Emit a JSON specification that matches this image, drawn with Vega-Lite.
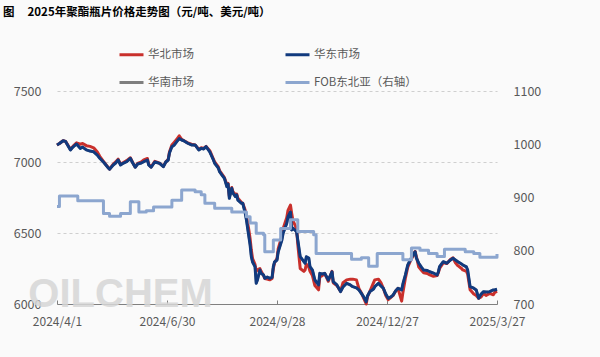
{
  "$schema": "https://vega.github.io/schema/vega-lite/v6.json",
  "width": 440,
  "height": 213,
  "autosize": {"type": "none"},
  "padding": {"left": 57, "top": 91, "right": 103, "bottom": 53},
  "background": "#fafafa",
  "config": {
    "font": "Noto Sans CJK SC",
    "view": {"stroke": null},
    "legend": {
      "orient": "none",
      "legendX": 61,
      "legendY": -50,
      "columns": 2,
      "padding": 0,
      "symbolType": "stroke",
      "symbolSize": 576,
      "symbolStrokeWidth": 3,
      "labelOffset": 3,
      "columnPadding": 85,
      "rowPadding": 8,
      "labelFontSize": 11.5,
      "labelColor": "#595959",
      "title": null
    }
  },
  "title": {
    "text": "图\u00a0\u00a0\u00a0\u00a0\u00a02025年聚酯瓶片价格走势图（元/吨、美元/吨）",
    "anchor": "start",
    "frame": "group",
    "fontSize": 11.5,
    "fontWeight": "bold",
    "color": "#000000",
    "dx": -54,
    "offset": 23
  },
  "datasets": {
    "dom": [
      {"date":"2024-04-01","华北市场":7120,"华东市场":7120,"华南市场":7120},
      {"date":"2024-04-03","华北市场":7130,"华东市场":7130,"华南市场":7130},
      {"date":"2024-04-06","华北市场":7150,"华东市场":7150,"华南市场":7150},
      {"date":"2024-04-08","华北市场":7145,"华东市场":7145,"华南市场":7145},
      {"date":"2024-04-12","华北市场":7090,"华东市场":7085,"华南市场":7085},
      {"date":"2024-04-14","华北市场":7110,"华东市场":7105,"华南市场":7105},
      {"date":"2024-04-17","华北市场":7135,"华东市场":7127,"华南市场":7127},
      {"date":"2024-04-20","华北市场":7125,"华东市场":7096,"华南市场":7096},
      {"date":"2024-04-22","华北市场":7130,"华东市场":7105,"华南市场":7105},
      {"date":"2024-04-25","华北市场":7115,"华东市场":7085,"华南市场":7085},
      {"date":"2024-04-28","华北市场":7110,"华东市场":7077,"华南市场":7077},
      {"date":"2024-05-01","华北市场":7100,"华东市场":7072,"华南市场":7072},
      {"date":"2024-05-04","华北市场":7070,"华东市场":7049,"华南市场":7049},
      {"date":"2024-05-06","华北市场":7040,"华东市场":7026,"华南市场":7026},
      {"date":"2024-05-09","华北市场":7005,"华东市场":7000,"华南市场":7000},
      {"date":"2024-05-13","华北市场":6960,"华东市场":6958,"华南市场":6958},
      {"date":"2024-05-14","华北市场":6950,"华东市场":6949,"华南市场":6949},
      {"date":"2024-05-17","华北市场":6985,"华东市场":6979,"华南市场":6979},
      {"date":"2024-05-19","华北市场":7000,"华东市场":6993,"华南市场":6993},
      {"date":"2024-05-21","华北市场":7020,"华东市场":7014,"华南市场":7014},
      {"date":"2024-05-23","华北市场":6985,"华东市场":6979,"华南市场":6979},
      {"date":"2024-05-25","华北市场":6995,"华东市场":6991,"华南市场":6991},
      {"date":"2024-05-28","华北市场":7010,"华东市场":7002,"华南市场":7002},
      {"date":"2024-05-31","华北市场":7030,"华东市场":7026,"华南市场":7026},
      {"date":"2024-06-02","华北市场":6995,"华东市场":6993,"华南市场":6993},
      {"date":"2024-06-04","华北市场":6965,"华东市场":6963,"华南市场":6963},
      {"date":"2024-06-06","华北市场":6990,"华东市场":6986,"华南市场":6986},
      {"date":"2024-06-09","华北市场":7000,"华东市场":6993,"华南市场":6993},
      {"date":"2024-06-11","华北市场":7015,"华东市场":7002,"华南市场":7002},
      {"date":"2024-06-14","华北市场":7025,"华东市场":7014,"华南市场":7014},
      {"date":"2024-06-15","华北市场":6985,"华东市场":6979,"华南市场":6979},
      {"date":"2024-06-17","华北市场":6965,"华东市场":6963,"华南市场":6963},
      {"date":"2024-06-20","华北市场":7005,"华东市场":7000,"华南市场":7000},
      {"date":"2024-06-23","华北市场":6995,"华东市场":6993,"华南市场":6993},
      {"date":"2024-06-24","华北市场":6990,"华东市场":6991,"华南市场":6991},
      {"date":"2024-06-27","华北市场":6970,"华东市场":6967,"华南市场":6967},
      {"date":"2024-06-29","华北市场":7000,"华东市场":7000,"华南市场":7000},
      {"date":"2024-07-01","华北市场":7020,"华东市场":7014,"华南市场":7014},
      {"date":"2024-07-02","华北市场":7070,"华东市场":7063,"华南市场":7063},
      {"date":"2024-07-04","华北市场":7120,"华东市场":7108,"华南市场":7108},
      {"date":"2024-07-06","华北市场":7140,"华东市场":7120,"华南市场":7120},
      {"date":"2024-07-08","华北市场":7160,"华东市场":7143,"华南市场":7143},
      {"date":"2024-07-10","华北市场":7185,"华东市场":7165,"华南市场":7165},
      {"date":"2024-07-12","华北市场":7160,"华东市场":7155,"华南市场":7155},
      {"date":"2024-07-14","华北市场":7150,"华东市场":7148,"华南市场":7148},
      {"date":"2024-07-17","华北市场":7135,"华东市场":7132,"华南市场":7132},
      {"date":"2024-07-20","华北市场":7125,"华东市场":7120,"华南市场":7120},
      {"date":"2024-07-23","华北市场":7120,"华东市场":7120,"华南市场":7120},
      {"date":"2024-07-26","华北市场":7090,"华东市场":7085,"华南市场":7085},
      {"date":"2024-07-28","华北市场":7100,"华东市场":7096,"华南市场":7096},
      {"date":"2024-07-30","华北市场":7095,"华东市场":7092,"华南市场":7092},
      {"date":"2024-08-01","华北市场":7110,"华东市场":7108,"华南市场":7108},
      {"date":"2024-08-04","华北市场":7080,"华东市场":7072,"华南市场":7072},
      {"date":"2024-08-07","华北市场":7020,"华东市场":7014,"华南市场":7014},
      {"date":"2024-08-08","华北市场":7000,"华东市场":6991,"华南市场":6991},
      {"date":"2024-08-11","华北市场":6965,"华东市场":6958,"华南市场":6958},
      {"date":"2024-08-12","华北市场":6940,"华东市场":6932,"华南市场":6932},
      {"date":"2024-08-14","华北市场":6915,"华东市场":6908,"华南市场":6908},
      {"date":"2024-08-16","华北市场":6890,"华东市场":6885,"华南市场":6885},
      {"date":"2024-08-18","华北市场":6840,"华东市场":6826,"华南市场":6826},
      {"date":"2024-08-19","华北市场":6850,"华东市场":6845,"华南市场":6845},
      {"date":"2024-08-20","华北市场":6760,"华东市场":6744,"华南市场":6744},
      {"date":"2024-08-22","华北市场":6820,"华东市场":6815,"华南市场":6815},
      {"date":"2024-08-23","华北市场":6790,"华东市场":6780,"华南市场":6780},
      {"date":"2024-08-25","华北市场":6770,"华东市场":6756,"华南市场":6756},
      {"date":"2024-08-26","华北市场":6775,"华东市场":6768,"华南市场":6768},
      {"date":"2024-08-27","华北市场":6745,"华东市场":6732,"华南市场":6732},
      {"date":"2024-08-30","华北市场":6715,"华东市场":6709,"华南市场":6709},
      {"date":"2024-08-31","华北市场":6710,"华东市场":6709,"华南市场":6709},
      {"date":"2024-09-02","华北市场":6660,"华东市场":6639,"华南市场":6639},
      {"date":"2024-09-03","华北市场":6620,"华东市场":6592,"华南市场":6592},
      {"date":"2024-09-05","华北市场":6520,"华东市场":6474,"华南市场":6474},
      {"date":"2024-09-06","华北市场":6460,"华东市场":6415,"华南市场":6415},
      {"date":"2024-09-07","华北市场":6380,"华东市场":6333,"华南市场":6333},
      {"date":"2024-09-08","华北市场":6320,"华东市场":6296,"华南市场":6296},
      {"date":"2024-09-10","华北市场":6280,"华东市场":6263,"华南市场":6263},
      {"date":"2024-09-11","华北市场":6230,"华东市场":6146,"华南市场":6146},
      {"date":"2024-09-12","华北市场":6240,"华东市场":6169,"华南市场":6169},
      {"date":"2024-09-14","华北市场":6250,"华东市场":6239,"华南市场":6239},
      {"date":"2024-09-15","华北市场":6230,"华东市场":6216,"华南市场":6216},
      {"date":"2024-09-17","华北市场":6200,"华东市场":6204,"华南市场":6204},
      {"date":"2024-09-18","华北市场":6180,"华东市场":6181,"华南市场":6181},
      {"date":"2024-09-20","华北市场":6175,"华东市场":6190,"华南市场":6190},
      {"date":"2024-09-22","华北市场":6170,"华东市场":6181,"华南市场":6181},
      {"date":"2024-09-24","华北市场":6180,"华东市场":6188,"华南市场":6188},
      {"date":"2024-09-25","华北市场":6250,"华东市场":6263,"华南市场":6263},
      {"date":"2024-09-26","华北市场":6290,"华东市场":6296,"华南市场":6296},
      {"date":"2024-09-28","华北市场":6320,"华东市场":6310,"华南市场":6310},
      {"date":"2024-09-29","华北市场":6390,"华东市场":6368,"华南市场":6368},
      {"date":"2024-10-02","华北市场":6480,"华东市场":6451,"华南市场":6451},
      {"date":"2024-10-03","华北市场":6530,"华东市场":6498,"华南市场":6498},
      {"date":"2024-10-06","华北市场":6610,"华东市场":6568,"华南市场":6568},
      {"date":"2024-10-07","华北市场":6660,"华东市场":6615,"华南市场":6615},
      {"date":"2024-10-09","华北市场":6697,"华东市场":6648,"华南市场":6648},
      {"date":"2024-10-10","华北市场":6640,"华东市场":6521,"华南市场":6521},
      {"date":"2024-10-11","华北市场":6590,"华东市场":6535,"华南市场":6535},
      {"date":"2024-10-14","华北市场":6530,"华东市场":6509,"华南市场":6509},
      {"date":"2024-10-15","华北市场":6420,"华东市场":6451,"华南市场":6451},
      {"date":"2024-10-17","华北市场":6250,"华东市场":6333,"华南市场":6333},
      {"date":"2024-10-20","华北市场":6230,"华东市场":6298,"华南市场":6298},
      {"date":"2024-10-21","华北市场":6240,"华东市场":6287,"华南市场":6287},
      {"date":"2024-10-22","华北市场":6280,"华东市场":6333,"华南市场":6333},
      {"date":"2024-10-24","华北市场":6260,"华东市场":6324,"华南市场":6324},
      {"date":"2024-10-25","华北市场":6230,"华东市场":6263,"华南市场":6263},
      {"date":"2024-10-27","华北市场":6200,"华东市场":6239,"华南市场":6239},
      {"date":"2024-10-29","华北市场":6130,"华东市场":6169,"华南市场":6169},
      {"date":"2024-11-01","华北市场":6100,"华东市场":6134,"华南市场":6134},
      {"date":"2024-11-02","华北市场":6190,"华东市场":6216,"华南市场":6216},
      {"date":"2024-11-04","华北市场":6200,"华东市场":6211,"华南市场":6211},
      {"date":"2024-11-06","华北市场":6215,"华东市场":6216,"华南市场":6216},
      {"date":"2024-11-09","华北市场":6160,"华东市场":6169,"华南市场":6169},
      {"date":"2024-11-12","华北市场":6230,"华东市场":6227,"华南市场":6227},
      {"date":"2024-11-13","华北市场":6150,"华东市场":6157,"华南市场":6157},
      {"date":"2024-11-16","华北市场":6130,"华东市场":6134,"华南市场":6134},
      {"date":"2024-11-19","华北市场":6090,"华东市场":6087,"华南市场":6087},
      {"date":"2024-11-21","华北市场":6150,"华东市场":6120,"华南市场":6120},
      {"date":"2024-11-24","华北市场":6170,"华东市场":6146,"华南市场":6146},
      {"date":"2024-11-27","华北市场":6175,"华东市场":6134,"华南市场":6134},
      {"date":"2024-11-29","华北市场":6175,"华东市场":6122,"华南市场":6122},
      {"date":"2024-12-02","华北市场":6170,"华东市场":6113,"华南市场":6113},
      {"date":"2024-12-04","华北市场":6110,"华东市场":6099,"华南市场":6099},
      {"date":"2024-12-06","华北市场":6080,"华东市场":6075,"华南市场":6075},
      {"date":"2024-12-08","华北市场":6040,"华东市场":6049,"华南市场":6049},
      {"date":"2024-12-10","华北市场":6000,"华东市场":6016,"华南市场":6016},
      {"date":"2024-12-11","华北市场":6050,"华东市场":6056,"华南市场":6056},
      {"date":"2024-12-13","华北市场":6090,"华东市场":6087,"华南市场":6087},
      {"date":"2024-12-16","华北市场":6150,"华东市场":6106,"华南市场":6106},
      {"date":"2024-12-17","华北市场":6170,"华东市场":6122,"华南市场":6122},
      {"date":"2024-12-20","华北市场":6175,"华东市场":6146,"华南市场":6146},
      {"date":"2024-12-22","华北市场":6150,"华东市场":6127,"华南市场":6127},
      {"date":"2024-12-24","华北市场":6110,"华东市场":6111,"华南市场":6111},
      {"date":"2024-12-26","华北市场":6060,"华东市场":6070,"华南市场":6070},
      {"date":"2024-12-28","华北市场":6030,"华东市场":6040,"华南市场":6040},
      {"date":"2024-12-30","华北市场":6045,"华东市场":6049,"华南市场":6049},
      {"date":"2025-01-01","华北市场":6060,"华东市场":6063,"华南市场":6063},
      {"date":"2025-01-03","华北市场":6090,"华东市场":6092,"华南市场":6092},
      {"date":"2025-01-05","华北市场":6110,"华东市场":6111,"华南市场":6111},
      {"date":"2025-01-08","华北市场":6020,"华东市场":6099,"华南市场":6099},
      {"date":"2025-01-09","华北市场":6080,"华东市场":6141,"华南市场":6141},
      {"date":"2025-01-11","华北市场":6180,"华东市场":6204,"华南市场":6204},
      {"date":"2025-01-13","华北市场":6260,"华东市场":6275,"华南市场":6275},
      {"date":"2025-01-15","华北市场":6300,"华东市场":6310,"华南市场":6310},
      {"date":"2025-01-18","华北市场":6350,"华东市场":6357,"华南市场":6357},
      {"date":"2025-01-19","华北市场":6370,"华东市场":6368,"华南市场":6368},
      {"date":"2025-01-20","华北市场":6335,"华东市场":6324,"华南市场":6324},
      {"date":"2025-01-22","华北市场":6260,"华东市场":6287,"华南市场":6287},
      {"date":"2025-01-24","华北市场":6240,"华东市场":6261,"华南市场":6261},
      {"date":"2025-01-26","华北市场":6220,"华东市场":6239,"华南市场":6239},
      {"date":"2025-01-29","华北市场":6215,"华东市场":6236,"华南市场":6236},
      {"date":"2025-01-31","华北市场":6205,"华东市场":6227,"华南市场":6227},
      {"date":"2025-02-03","华北市场":6195,"华东市场":6218,"华南市场":6218},
      {"date":"2025-02-06","华北市场":6200,"华东市场":6204,"华南市场":6204},
      {"date":"2025-02-07","华北市场":6220,"华东市场":6225,"华南市场":6225},
      {"date":"2025-02-08","华北市场":6250,"华东市场":6263,"华南市场":6263},
      {"date":"2025-02-11","华北市场":6290,"华东市场":6298,"华南市场":6298},
      {"date":"2025-02-14","华北市场":6285,"华东市场":6287,"华南市场":6287},
      {"date":"2025-02-17","华北市场":6315,"华东市场":6310,"华南市场":6310},
      {"date":"2025-02-19","华北市场":6325,"华东市场":6322,"华南市场":6322},
      {"date":"2025-02-21","华北市场":6290,"华东市场":6310,"华南市场":6310},
      {"date":"2025-02-23","华北市场":6270,"华东市场":6298,"华南市场":6298},
      {"date":"2025-02-26","华北市场":6250,"华东市场":6282,"华南市场":6282},
      {"date":"2025-02-27","华北市场":6240,"华东市场":6275,"华南市场":6275},
      {"date":"2025-03-02","华北市场":6230,"华东市场":6261,"华南市场":6261},
      {"date":"2025-03-03","华北市场":6210,"华东市场":6239,"华南市场":6239},
      {"date":"2025-03-05","华北市场":6100,"华东市场":6122,"华南市场":6122},
      {"date":"2025-03-08","华北市场":6070,"华东市场":6111,"华南市场":6111},
      {"date":"2025-03-10","华北市场":6060,"华东市场":6099,"华南市场":6099},
      {"date":"2025-03-12","华北市场":6040,"华东市场":6040,"华南市场":6040},
      {"date":"2025-03-14","华北市场":6050,"华东市场":6070,"华南市场":6070},
      {"date":"2025-03-16","华北市场":6075,"华东市场":6087,"华南市场":6087},
      {"date":"2025-03-18","华北市场":6060,"华东市场":6085,"华南市场":6085},
      {"date":"2025-03-21","华北市场":6075,"华东市场":6087,"华南市场":6087},
      {"date":"2025-03-24","华北市场":6065,"华东市场":6099,"华南市场":6099},
      {"date":"2025-03-25","华北市场":6080,"华东市场":6099,"华南市场":6099},
      {"date":"2025-03-27","华北市场":6090,"华东市场":6104,"华南市场":6104}
    ],
    "fob": [
      {"date":"2024-04-01","key":"FOB东北亚（右轴）","value":883},
      {"date":"2024-04-03","key":"FOB东北亚（右轴）","value":903},
      {"date":"2024-04-18","key":"FOB东北亚（右轴）","value":894},
      {"date":"2024-05-09","key":"FOB东北亚（右轴）","value":870},
      {"date":"2024-05-14","key":"FOB东北亚（右轴）","value":865},
      {"date":"2024-05-23","key":"FOB东北亚（右轴）","value":870},
      {"date":"2024-05-31","key":"FOB东北亚（右轴）","value":892},
      {"date":"2024-06-07","key":"FOB东北亚（右轴）","value":873},
      {"date":"2024-06-13","key":"FOB东北亚（右轴）","value":875},
      {"date":"2024-06-19","key":"FOB东北亚（右轴）","value":882},
      {"date":"2024-07-04","key":"FOB东北亚（右轴）","value":895},
      {"date":"2024-07-12","key":"FOB东北亚（右轴）","value":914},
      {"date":"2024-07-23","key":"FOB东北亚（右轴）","value":911},
      {"date":"2024-07-28","key":"FOB东北亚（右轴）","value":905},
      {"date":"2024-07-31","key":"FOB东北亚（右轴）","value":889},
      {"date":"2024-08-08","key":"FOB东北亚（右轴）","value":880},
      {"date":"2024-08-22","key":"FOB东北亚（右轴）","value":873},
      {"date":"2024-09-03","key":"FOB东北亚（右轴）","value":864},
      {"date":"2024-09-06","key":"FOB东北亚（右轴）","value":852},
      {"date":"2024-09-11","key":"FOB东北亚（右轴）","value":833},
      {"date":"2024-09-17","key":"FOB东北亚（右轴）","value":830},
      {"date":"2024-09-18","key":"FOB东北亚（右轴）","value":798},
      {"date":"2024-09-25","key":"FOB东北亚（右轴）","value":820},
      {"date":"2024-10-01","key":"FOB东北亚（右轴）","value":842},
      {"date":"2024-10-09","key":"FOB东北亚（右轴）","value":858},
      {"date":"2024-10-15","key":"FOB东北亚（右轴）","value":836},
      {"date":"2024-10-28","key":"FOB东北亚（右轴）","value":830},
      {"date":"2024-10-30","key":"FOB东北亚（右轴）","value":795},
      {"date":"2024-11-28","key":"FOB东北亚（右轴）","value":784},
      {"date":"2024-12-06","key":"FOB东北亚（右轴）","value":787},
      {"date":"2024-12-12","key":"FOB东北亚（右轴）","value":771},
      {"date":"2024-12-19","key":"FOB东北亚（右轴）","value":795},
      {"date":"2025-01-09","key":"FOB东北亚（右轴）","value":783},
      {"date":"2025-01-16","key":"FOB东北亚（右轴）","value":805},
      {"date":"2025-01-23","key":"FOB东北亚（右轴）","value":801},
      {"date":"2025-01-30","key":"FOB东北亚（右轴）","value":795},
      {"date":"2025-02-06","key":"FOB东北亚（右轴）","value":789},
      {"date":"2025-02-12","key":"FOB东北亚（右轴）","value":803},
      {"date":"2025-03-01","key":"FOB东北亚（右轴）","value":798},
      {"date":"2025-03-08","key":"FOB东北亚（右轴）","value":795},
      {"date":"2025-03-13","key":"FOB东北亚（右轴）","value":788},
      {"date":"2025-03-27","key":"FOB东北亚（右轴）","value":794}
    ],
    "wm": [
      {"date":"2024-05-23","value":6064,"t":"OILCHEM"}
    ]
  },
  "encoding": {
    "x": {
      "field": "date",
      "type": "temporal",
      "scale": {
        "type": "utc",
        "domain": [
          {"year": 2024, "month": 4, "date": 1, "utc": true},
          {"year": 2025, "month": 3, "date": 27, "utc": true}
        ]
      },
      "axis": {
        "title": null,
        "grid": false,
        "values": [
          {"year": 2024, "month": 4, "date": 1, "utc": true},
          {"year": 2024, "month": 6, "date": 30, "utc": true},
          {"year": 2024, "month": 9, "date": 28, "utc": true},
          {"year": 2024, "month": 12, "date": 27, "utc": true},
          {"year": 2025, "month": 3, "date": 27, "utc": true}
        ],
        "labelExpr": "utcFormat(datum.value, '%Y/%-m/%-d')",
        "labelFlush": false,
        "labelOverlap": false,
        "domainColor": "#808080",
        "tickColor": "#808080",
        "tickSize": -4,
        "labelPadding": 16,
        "labelFontSize": 12,
        "labelColor": "#595959"
      }
    }
  },
  "layer": [
    {
      "encoding": {
        "y": {
          "field": "value",
          "type": "quantitative",
          "scale": {"domain": [6000, 7500], "nice": false, "zero": false},
          "axis": {
            "title": null,
            "domain": false,
            "ticks": false,
            "grid": true,
            "gridDash": [3, 3],
            "gridColor": "#cfcfcf",
            "values": [6000, 6500, 7000, 7500],
            "format": "d",
            "labelPadding": 16,
            "labelFontSize": 12.5,
            "labelColor": "#595959"
          }
        }
      },
      "layer": [
        {
          "data": {"name": "wm"},
          "mark": {"type": "text", "font": "Liberation Sans", "fontSize": 40, "fontWeight": "bold", "color": "#d6d6d6", "opacity": 0.85, "baseline": "middle", "align": "center"},
          "encoding": {"text": {"field": "t"}}
        },
        {
          "data": {"name": "dom"},
          "transform": [{"fold": ["华南市场"]}],
          "mark": {"type": "line", "strokeWidth": 2.5, "strokeJoin": "round"},
          "encoding": {
            "color": {
              "field": "key",
              "type": "nominal",
              "scale": {
                "domain": ["华北市场", "华南市场", "华东市场", "FOB东北亚（右轴）"],
                "range": ["#c9302c", "#7f7f7f", "#113a7e", "#8ca6cf"]
              }
            }
          }
        },
        {
          "data": {"name": "dom"},
          "transform": [{"fold": ["华北市场"]}],
          "mark": {"type": "line", "strokeWidth": 3, "strokeJoin": "round"},
          "encoding": {"color": {"field": "key", "type": "nominal"}}
        },
        {
          "data": {"name": "dom"},
          "transform": [{"fold": ["华东市场"]}],
          "mark": {"type": "line", "strokeWidth": 3, "strokeJoin": "round"},
          "encoding": {"color": {"field": "key", "type": "nominal"}}
        }
      ]
    },
    {
      "data": {"name": "fob"},
      "mark": {"type": "line", "strokeWidth": 3, "interpolate": "step-after", "strokeJoin": "round"},
      "encoding": {
        "y": {
          "field": "value",
          "type": "quantitative",
          "scale": {"domain": [700, 1100], "nice": false, "zero": false},
          "axis": {
            "title": null,
            "orient": "right",
            "domain": false,
            "ticks": false,
            "grid": false,
            "values": [700, 800, 900, 1000, 1100],
            "format": "d",
            "labelPadding": 16,
            "labelFontSize": 12.5,
            "labelColor": "#595959"
          }
        },
        "color": {"field": "key", "type": "nominal"}
      }
    }
  ],
  "resolve": {"scale": {"y": "independent"}}
}
